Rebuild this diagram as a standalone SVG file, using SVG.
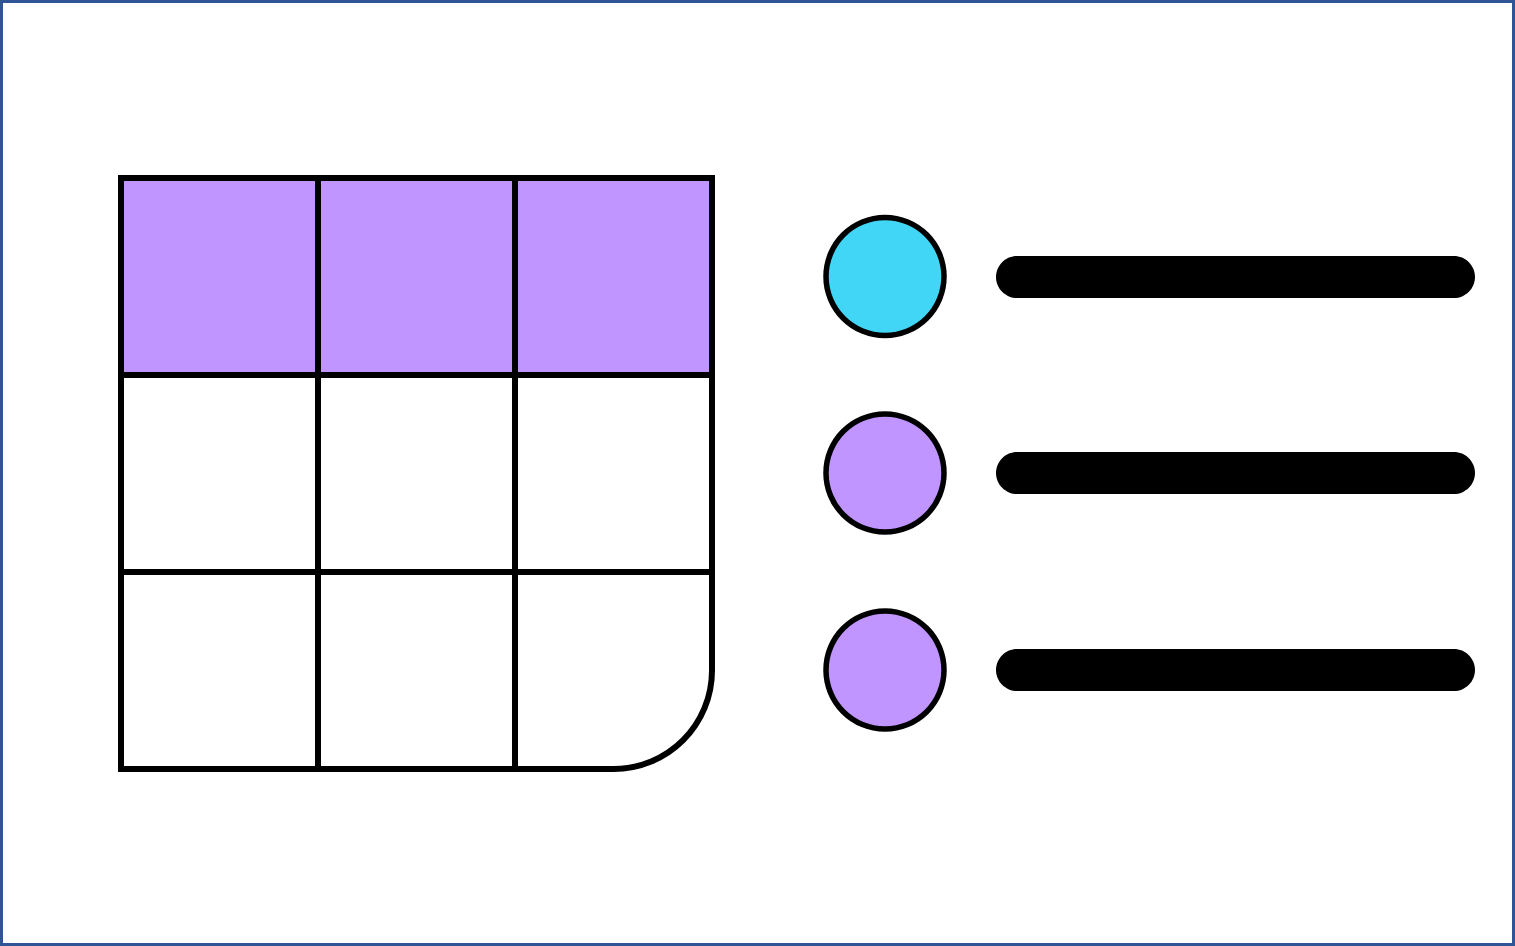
<svg xmlns="http://www.w3.org/2000/svg" xmlns:xlink="http://www.w3.org/1999/xlink" width="1515" height="946" viewBox="0 0 1515 946">
<style>
.ln{fill:none;stroke:#000;stroke-width:6}
.dot{stroke:#000;stroke-width:5.5}
.bar{fill:#000}
</style>
<defs>
<path id="circ" d="M59,0 C59,7.748 57.474,15.42 54.509,22.578 C51.544,29.736 47.198,36.24 41.719,41.719 C36.24,47.198 29.736,51.544 22.578,54.509 C15.42,57.474 7.748,59 0,59 C-7.748,59 -15.42,57.474 -22.578,54.509 C-29.736,51.544 -36.24,47.198 -41.719,41.719 C-47.198,36.24 -51.544,29.736 -54.509,22.578 C-57.474,15.42 -59,7.748 -59,0 C-59,-7.748 -57.474,-15.42 -54.509,-22.578 C-51.544,-29.736 -47.198,-36.24 -41.719,-41.719 C-36.24,-47.198 -29.736,-51.544 -22.578,-54.509 C-15.42,-57.474 -7.748,-59 0,-59 C7.748,-59 15.42,-57.474 22.578,-54.509 C29.736,-51.544 36.24,-47.198 41.719,-41.719 C47.198,-36.24 51.544,-29.736 54.509,-22.578 C57.474,-15.42 59,-7.748 59,0 Z"/>
<path id="pill" d="M-218.5,-21 H218.5 C221.258,-21 223.988,-20.456 226.536,-19.401 C229.084,-18.346 231.399,-16.799 233.349,-14.849 C235.299,-12.899 236.846,-10.584 237.901,-8.036 C238.956,-5.488 239.5,-2.758 239.5,0 C239.5,2.758 238.956,5.488 237.901,8.036 C236.846,10.584 235.299,12.899 233.349,14.849 C231.399,16.799 229.084,18.346 226.536,19.401 C223.988,20.456 221.258,21 218.5,21 H-218.5 C-221.258,21 -223.988,20.456 -226.536,19.401 C-229.084,18.346 -231.399,16.799 -233.349,14.849 C-235.299,12.899 -236.846,10.584 -237.901,8.036 C-238.956,5.488 -239.5,2.758 -239.5,0 C-239.5,-2.758 -238.956,-5.488 -237.901,-8.036 C-236.846,-10.584 -235.299,-12.899 -233.349,-14.849 C-231.399,-16.799 -229.084,-18.346 -226.536,-19.401 C-223.988,-20.456 -221.258,-21 -218.5,-21 Z"/>
</defs>
<rect x="1.5" y="1.5" width="1512" height="943" fill="#fff" stroke="#2F5597" stroke-width="3"/>
<g id="table">
<rect x="121" y="178" width="591" height="197" fill="#C195FF"/>
<path class="ln" d="M121,178 H712 V670.5 C712,683.435 709.452,696.244 704.502,708.194 C699.552,720.144 692.297,731.003 683.15,740.15 C674.003,749.297 663.144,756.552 651.194,761.502 C639.244,766.452 626.435,769 613.5,769 H121 Z"/>
<path class="ln" d="M318,178 V769 M515,178 V769 M121,375 H712 M121,572 H712"/>
</g>
<g id="item1">
<use href="#circ" xlink:href="#circ" class="dot" x="885" y="276.5" fill="#41D6F5"/>
<use href="#pill" xlink:href="#pill" class="bar" x="1235.5" y="277"/>
</g>
<g id="item2">
<use href="#circ" xlink:href="#circ" class="dot" x="885" y="473" fill="#C195FF"/>
<use href="#pill" xlink:href="#pill" class="bar" x="1235.5" y="473"/>
</g>
<g id="item3">
<use href="#circ" xlink:href="#circ" class="dot" x="885" y="670" fill="#C195FF"/>
<use href="#pill" xlink:href="#pill" class="bar" x="1235.5" y="670"/>
</g>
</svg>
